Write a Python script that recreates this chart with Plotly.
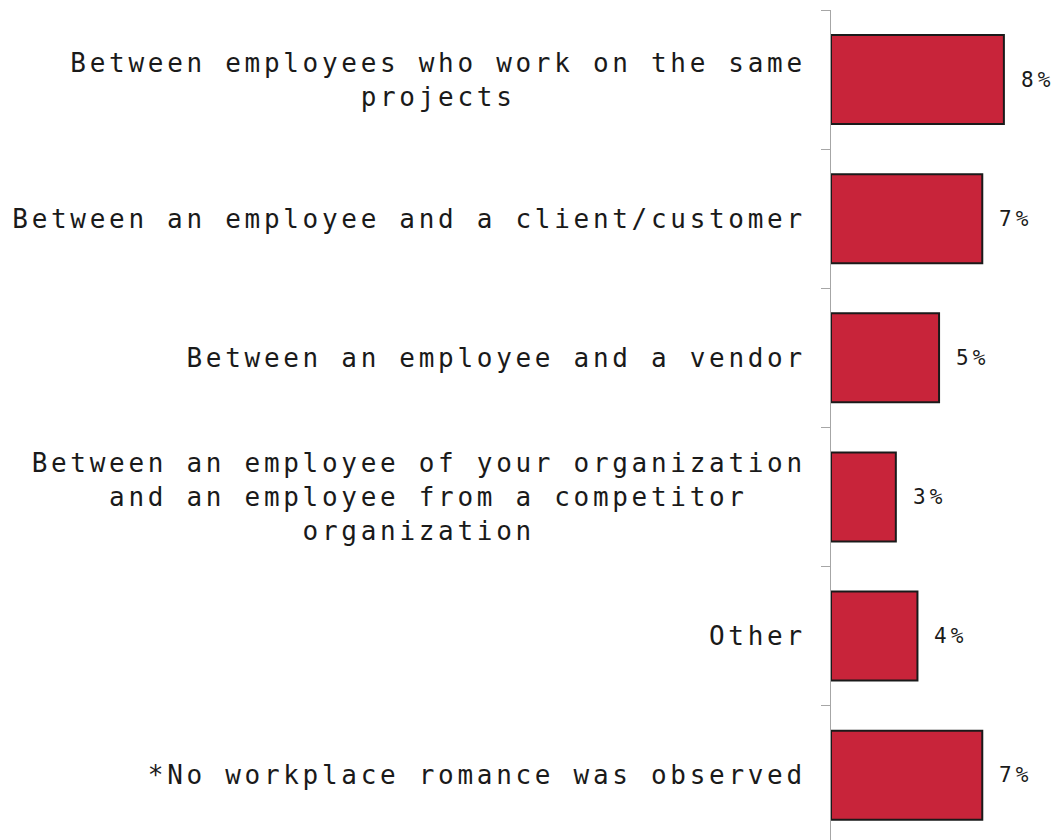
import plotly.graph_objects as go

# survey categories, top to bottom
categories = [
    "Between employees who work on the same<br>projects",
    "Between an employee and a client/customer",
    "Between an employee and a vendor",
    "Between an employee of your organization<br>and an employee from a competitor<br>organization",
    "Other",
    "*No workplace romance was observed",
]
values = [8, 7, 5, 3, 4, 7]
value_labels = ["8%", "7%", "5%", "3%", "4%", "7%"]


def center_lines(label):
    """Pad shorter lines with trailing nbsp so right-anchored mono text looks centered."""
    lines = label.split("<br>")
    width = max(len(l) for l in lines)
    out = []
    for l in lines:
        pad = (width - len(l)) // 2
        out.append(l + "\u00a0" * pad)
    return "<br>".join(out)


tick_text = [center_lines(c) for c in categories]

fig = go.Figure()
fig.add_trace(go.Bar(
    x=values,
    y=tick_text,
    orientation="h",
    marker=dict(color="#C8243A", line=dict(color="#1a1a1a", width=2)),
    hoverinfo="x",
))

for cat, v, lab in zip(tick_text, values, value_labels):
    fig.add_annotation(
        x=v, y=cat, text=lab, showarrow=False,
        xanchor="left", xshift=19,
        font=dict(family="DejaVu Sans Mono", size=21, color="#1a1a1a"),
    )

fig.update_layout(
    width=1059,
    height=840,
    margin=dict(l=831, r=0, t=10, b=0),
    plot_bgcolor="white",
    paper_bgcolor="white",
    bargap=0.36,
    showlegend=False,
    font=dict(family="DejaVu Sans Mono", color="#1a1a1a"),
)

fig.update_xaxes(
    range=[0, 10.55],
    visible=False,
    showgrid=False,
    zeroline=False,
    automargin=False,
)

fig.update_yaxes(
    type="category",
    categoryorder="array",
    categoryarray=tick_text,
    range=[5.466, -0.5],
    automargin=False,
    showgrid=False,
    zeroline=False,
    showline=True,
    linecolor="#a6a6a6",
    linewidth=1,
    ticks="outside",
    tickson="boundaries",
    ticklen=9,
    tickcolor="#a6a6a6",
    ticklabelstandoff=19,
    tickfont=dict(family="DejaVu Sans Mono", size=26, color="#1a1a1a"),
)

# drop the page margin and add wide letter spacing to match the original typeface
post = """
document.body.style.margin = '0';
var gd = document.getElementById('{plot_id}');
function spaceText() {
  gd.querySelectorAll('.ytick text').forEach(function (t) { t.style.letterSpacing = '3.7px'; });
  gd.querySelectorAll('.annotation-text').forEach(function (t) { t.style.letterSpacing = '4px'; });
}
spaceText();
gd.on('plotly_afterplot', spaceText);
"""

fig.write_html("out.html", post_script=post, config={"displayModeBar": False})
